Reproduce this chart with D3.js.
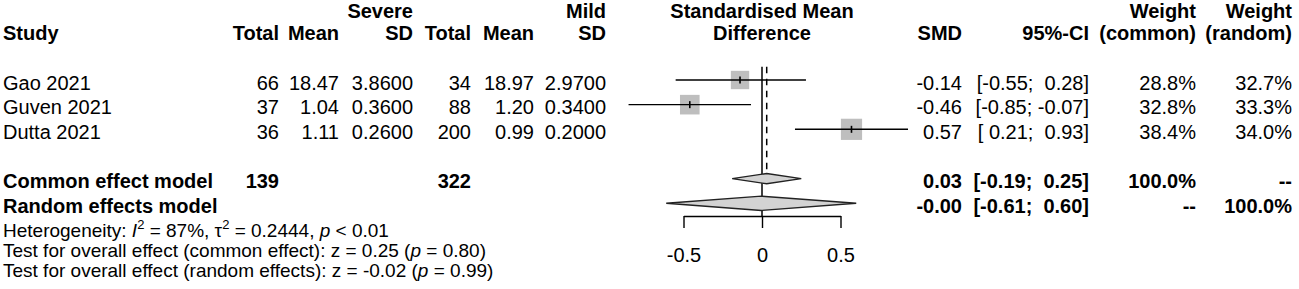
<!DOCTYPE html>
<html>
<head>
<meta charset="utf-8">
<script src="https://cdn.jsdelivr.net/npm/d3@7"></script>
<style>
  body { margin: 0; background: #fff; }
  svg text { font-family: 'Liberation Sans', Arial, sans-serif; font-size: 20px; fill: #000; white-space: pre; }
</style>
</head>
<body>
<svg id="forest"></svg>
<script>
// ---- data ----
const studies = ['Gao 2021', 'Guven 2021', 'Dutta 2021']
const severeTotal = [66, 37, 36]
const severeMean = [18.47, 1.04, 1.11]
const severeSD = [3.86, 0.36, 0.26]
const mildTotal = [34, 88, 200]
const mildMean = [18.97, 1.20, 0.99]
const mildSD = [2.97, 0.34, 0.20]
const smd = [-0.14, -0.46, 0.57]
const ciLower = [-0.55, -0.85, 0.21]
const ciUpper = [0.28, -0.07, 0.93]
const weightCommon = [28.8, 32.8, 38.4]
const weightRandom = [32.7, 33.3, 34.0]

const pooledLabels = ['Common effect model', 'Random effects model']
const pooledSevere = [139, null]
const pooledMild = [322, null]
const pooledSMD = [0.03, -0.004]
const pooledLower = [-0.19, -0.61]
const pooledUpper = [0.25, 0.60]
const pooledWCommon = ['100.0%', '--']
const pooledWRandom = ['--', '100.0%']

const tickValues = [-0.5, 0, 0.5]

// ---- layout ----
const width = 1299
const height = 289
const svg = d3.select('#forest').attr('width', width).attr('height', height)

const x = d3.scaleLinear().domain([-0.5, 0.5]).range([683.5, 840.5])
const rowY = d3.scaleLinear().domain([0, 5]).range([80, 203.3]) // 0-2 studies, 4-5 pooled
const boxSize = d3.scaleSqrt().domain([0, d3.max(weightCommon)]).range([0, 21.2])
const base = 9.5 // text baseline below row centre

const fmt2 = v => v.toFixed(2)
const pad = v => (v < 0 ? '' : ' ') + v.toFixed(2)
const ci = (lo, hi) => `[${pad(lo)}; ${pad(hi)}]`

// right edges of the table columns
const col = {
  study: 3, sTot: 279, sMean: 339, sSD: 413, mTot: 471, mMean: 534, mSD: 606,
  smd: 962, ci: 1089, wc: 1196, wr: 1292
}

function txt(g, xx, y, s, anchor = 'end', bold = false) {
  return g.append('text').attr('x', xx).attr('y', y).attr('text-anchor', anchor)
    .attr('font-weight', bold ? 'bold' : null).text(s)
}

// ---- header ----
const head = svg.append('g')
const h1 = 18, h2 = 40
txt(head, col.sSD, h1, 'Severe', 'end', true)
txt(head, col.mSD, h1, 'Mild', 'end', true)
txt(head, x(0), h1, 'Standardised Mean', 'middle', true)
txt(head, col.wc, h1, 'Weight', 'end', true)
txt(head, col.wr, h1, 'Weight', 'end', true)
txt(head, col.study, h2, 'Study', 'start', true)
txt(head, col.sTot, h2, 'Total', 'end', true)
txt(head, col.sMean, h2, 'Mean', 'end', true)
txt(head, col.sSD, h2, 'SD', 'end', true)
txt(head, col.mTot, h2, 'Total', 'end', true)
txt(head, col.mMean, h2, 'Mean', 'end', true)
txt(head, col.mSD, h2, 'SD', 'end', true)
txt(head, x(0), h2, 'Difference', 'middle', true)
txt(head, col.smd, h2, 'SMD', 'end', true)
txt(head, col.ci, h2, '95%-CI', 'end', true)
txt(head, col.wc, h2, '(common)', 'end', true)
txt(head, col.wr, h2, '(random)', 'end', true)

// ---- study rows ----
const rows = svg.append('g')
studies.forEach((s, i) => {
  const y = rowY(i) + base
  txt(rows, col.study, y, s, 'start')
  txt(rows, col.sTot, y, severeTotal[i])
  txt(rows, col.sMean, y, fmt2(severeMean[i]))
  txt(rows, col.sSD, y, severeSD[i].toFixed(4))
  txt(rows, col.mTot, y, mildTotal[i])
  txt(rows, col.mMean, y, fmt2(mildMean[i]))
  txt(rows, col.mSD, y, mildSD[i].toFixed(4))
  txt(rows, col.smd, y, fmt2(smd[i]))
  txt(rows, col.ci, y, ci(ciLower[i], ciUpper[i]))
  txt(rows, col.wc, y, weightCommon[i].toFixed(1) + '%')
  txt(rows, col.wr, y, weightRandom[i].toFixed(1) + '%')
})

// ---- pooled rows ----
pooledLabels.forEach((s, j) => {
  const y = rowY(4 + j) + base
  txt(rows, col.study, y, s, 'start', true)
  if (pooledSevere[j] != null) txt(rows, col.sTot, y, pooledSevere[j], 'end', true)
  if (pooledMild[j] != null) txt(rows, col.mTot, y, pooledMild[j], 'end', true)
  txt(rows, col.smd, y, fmt2(pooledSMD[j]), 'end', true)
  txt(rows, col.ci, y, ci(pooledLower[j], pooledUpper[j]), 'end', true)
  txt(rows, col.wc, y, pooledWCommon[j], 'end', true)
  txt(rows, col.wr, y, pooledWRandom[j], 'end', true)
})

// ---- forest plot ----
const plot = svg.append('g')
const topY = 66.7

// reference line at 0
plot.append('line')
  .attr('x1', x(0)).attr('x2', x(0)).attr('y1', topY).attr('y2', 216)
  .attr('stroke', '#000').attr('stroke-width', 1.5)

// common effect dashed line
plot.append('line')
  .attr('x1', x(pooledSMD[0])).attr('x2', x(pooledSMD[0]))
  .attr('y1', topY).attr('y2', rowY(4) - 5)
  .attr('stroke', '#000').attr('stroke-width', 1.5).attr('stroke-dasharray', '6.5,5.5')

const study = plot.selectAll('g.study').data(studies).enter().append('g').attr('class', 'study')

study.append('rect')
  .attr('x', (d, i) => x(smd[i]) - boxSize(weightCommon[i]) / 2)
  .attr('y', (d, i) => rowY(i) - boxSize(weightCommon[i]) / 2)
  .attr('width', (d, i) => boxSize(weightCommon[i]))
  .attr('height', (d, i) => boxSize(weightCommon[i]))
  .attr('fill', '#bebebe')

study.append('line')
  .attr('x1', (d, i) => x(ciLower[i])).attr('x2', (d, i) => x(ciUpper[i]))
  .attr('y1', (d, i) => rowY(i)).attr('y2', (d, i) => rowY(i))
  .attr('stroke', '#000').attr('stroke-width', 1.4)

study.append('line')
  .attr('x1', (d, i) => x(smd[i])).attr('x2', (d, i) => x(smd[i]))
  .attr('y1', (d, i) => rowY(i) - 3.5).attr('y2', (d, i) => rowY(i) + 3.5)
  .attr('stroke', '#000').attr('stroke-width', 1.6)

// diamonds
const diamondH = [10.3, 14.3]
pooledLabels.forEach((s, j) => {
  const cy = rowY(4 + j)
  const h = diamondH[j] / 2
  const pts = [
    [x(pooledLower[j]), cy], [x(pooledSMD[j]), cy - h],
    [x(pooledUpper[j]), cy], [x(pooledSMD[j]), cy + h]
  ]
  plot.append('polygon')
    .attr('points', pts.map(p => p.join(',')).join(' '))
    .attr('fill', '#d3d3d3').attr('stroke', '#222').attr('stroke-width', 1.4)
})

// axis
const axis = plot.append('g')
  .attr('transform', 'translate(0,216)')
  .call(d3.axisBottom(x).tickValues(tickValues).tickFormat(d => String(d))
    .tickSize(12).tickSizeOuter(0).tickPadding(19.5))
axis.selectAll('path, line').attr('stroke', '#000').attr('stroke-width', 1.4)
axis.selectAll('text').style('font-size', '20px').attr('fill', '#000')
axis.attr('font-family', null).attr('font-size', null)

// ---- heterogeneity / tests ----
const stats = svg.append('g')
const het = stats.append('text').attr('x', 3).attr('y', 236.5).style('font-size', '19px')
het.append('tspan').text('Heterogeneity: ')
het.append('tspan').attr('font-style', 'italic').text('I')
het.append('tspan').attr('dy', -8).style('font-size', '13px').text('2')
het.append('tspan').attr('dy', 8).text(' = 87%, τ')
het.append('tspan').attr('dy', -8).style('font-size', '13px').text('2')
het.append('tspan').attr('dy', 8).text(' = 0.2444, ')
het.append('tspan').attr('font-style', 'italic').text('p')
het.append('tspan').text(' < 0.01')

const tests = [
  ['Test for overall effect (common effect): z = 0.25 (', ' = 0.80)'],
  ['Test for overall effect (random effects): z = -0.02 (', ' = 0.99)']
]
tests.forEach((t, k) => {
  const el = stats.append('text').attr('x', 3).attr('y', 256.5 + 20 * k).style('font-size', '19px')
  el.append('tspan').text(t[0])
  el.append('tspan').attr('font-style', 'italic').text('p')
  el.append('tspan').text(t[1])
})
</script>
</body>
</html>
